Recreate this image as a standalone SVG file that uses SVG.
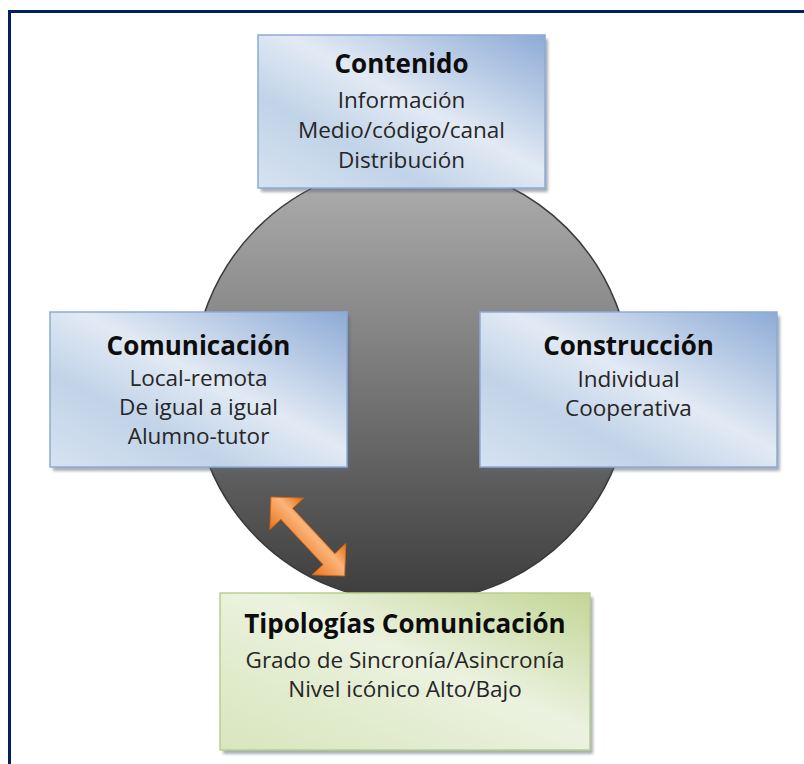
<svg xmlns="http://www.w3.org/2000/svg" width="804" height="764" viewBox="0 0 804 764">
  <style>
    .title { font-family: "Open Sans", "Liberation Sans", sans-serif; font-weight: bold; font-size: 26px; fill: #0d0d0d; text-anchor: middle; }
    .body { font-family: "Open Sans", "Liberation Sans", sans-serif; font-size: 22.5px; fill: #262626; text-anchor: middle; }
    .bluebox { fill: url(#blueGrad); stroke: #8eaad6; stroke-width: 1.5; }
    .greenbox { fill: url(#greenGrad); stroke: #b9cf8c; stroke-width: 1.5; }
    .shadow { fill: #5f6b7a; opacity: 0.55; filter: url(#blur); }
  </style>
  <defs>
    <linearGradient id="circGrad" x1="0" y1="0" x2="0" y2="1">
      <stop offset="0" stop-color="#b0b0b0"/>
      <stop offset="0.45" stop-color="#7d7d7d"/>
      <stop offset="1" stop-color="#3c3c3c"/>
    </linearGradient>
    <linearGradient id="blueGrad" x1="0" y1="1" x2="1" y2="0">
      <stop offset="0" stop-color="#d6e2f0"/>
      <stop offset="0.3" stop-color="#c1d3e8"/>
      <stop offset="0.55" stop-color="#e2eaf4"/>
      <stop offset="1" stop-color="#8dabd6"/>
    </linearGradient>
    <linearGradient id="greenGrad" x1="0" y1="1" x2="1" y2="0">
      <stop offset="0" stop-color="#d9e6bf"/>
      <stop offset="0.3" stop-color="#e2ecce"/>
      <stop offset="0.55" stop-color="#ecf2e0"/>
      <stop offset="1" stop-color="#c2d696"/>
    </linearGradient>
    <linearGradient id="arrowGrad" x1="0" y1="0" x2="0" y2="1">
      <stop offset="0" stop-color="#e46c0a"/>
      <stop offset="0.4" stop-color="#fbb57a"/>
      <stop offset="1" stop-color="#e8731a"/>
    </linearGradient>
    <filter id="blur" x="-10%" y="-10%" width="120%" height="120%">
      <feGaussianBlur stdDeviation="1.5"/>
    </filter>
  </defs>

  <rect x="0" y="0" width="804" height="764" fill="#ffffff"/>
  <rect x="9.5" y="11.5" width="900" height="900" fill="none" stroke="#002060" stroke-width="3"/>

  <g id="circle">
    <circle cx="412" cy="383" r="219" fill="url(#circGrad)" stroke="#3a3a3a" stroke-width="1.5"/>
  </g>

  <g id="contenido">
    <rect class="shadow" x="261" y="39" width="287" height="153"/>
    <rect class="bluebox" x="258" y="35" width="287" height="153"/>
    <text class="title" x="401.5" y="73">Contenido</text>
    <text class="body" x="401.5" y="108">Información</text>
    <text class="body" x="401.5" y="138">Medio/código/canal</text>
    <text class="body" x="401.5" y="168">Distribución</text>
  </g>

  <g id="comunicacion">
    <rect class="shadow" x="53" y="316" width="297" height="155"/>
    <rect class="bluebox" x="50" y="312" width="297" height="155"/>
    <text class="title" x="198.5" y="355">Comunicación</text>
    <text class="body" x="198.5" y="386">Local-remota</text>
    <text class="body" x="198.5" y="415">De igual a igual</text>
    <text class="body" x="198.5" y="444">Alumno-tutor</text>
  </g>

  <g id="construccion">
    <rect class="shadow" x="483" y="316" width="297" height="155"/>
    <rect class="bluebox" x="480" y="312" width="297" height="155"/>
    <text class="title" x="628.5" y="355">Construcción</text>
    <text class="body" x="628.5" y="387">Individual</text>
    <text class="body" x="628.5" y="416">Cooperativa</text>
  </g>

  <g id="tipologias">
    <rect class="shadow" x="223" y="597" width="370" height="157"/>
    <rect class="greenbox" x="220" y="593" width="370" height="157"/>
    <text class="title" x="405" y="633">Tipologías Comunicación</text>
    <text class="body" x="405" y="668">Grado de Sincronía/Asincronía</text>
    <text class="body" x="405" y="697">Nivel icónico Alto/Bajo</text>
  </g>

  <g id="connectors">
    <g transform="translate(271,497) rotate(47)">
      <polygon points="0,0 23,-23 23,-8 85,-8 85,-23 108,0 85,23 85,8 23,8 23,23" fill="url(#arrowGrad)" stroke="#d9670f" stroke-width="0.8" stroke-linejoin="miter"/>
    </g>
  </g>
</svg>
